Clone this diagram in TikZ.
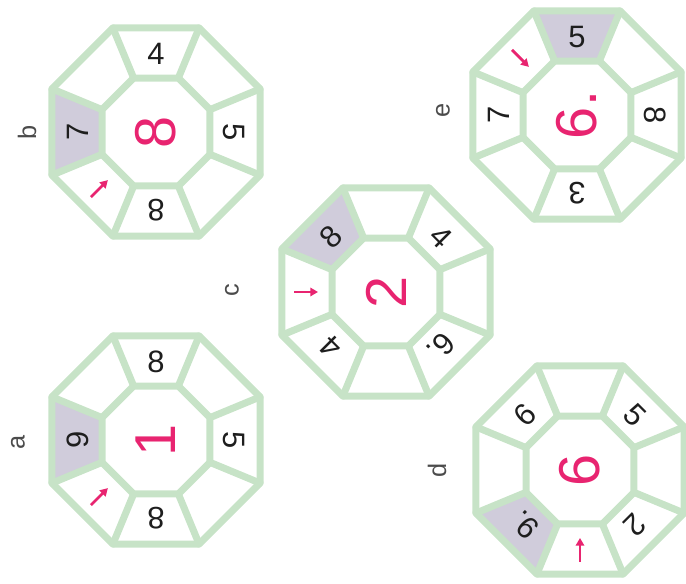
\documentclass[tikz,border=0pt]{standalone}
\usepackage{fontspec}
\setmainfont{Liberation Sans}
\usetikzlibrary{arrows.meta,calc}
\definecolor{framegreen}{RGB}{199,227,199}
\definecolor{cellgrey}{RGB}{208,204,219}
\definecolor{rose}{RGB}{232,36,112}
\definecolor{ink}{RGB}{30,30,30}

\begin{document}
\begin{tikzpicture}[
x=0.025cm, y=0.025cm,
ring/.style={
draw=framegreen,
line width=5pt,
line join=round,
line cap=round
},
cellnum/.style={
text=ink,
font=\fontsize{22}{22}\selectfont,
inner sep=0pt
},
bignum/.style={
text=rose,
font=\fontsize{41}{41}\selectfont,
inner sep=0pt,
rotate=90
},
tag/.style={
text=ink!80,
font=\fontsize{18}{18}\selectfont,
inner sep=0pt,
rotate=90
},
pointer/.style={
-{Triangle[length=5.5pt,width=6pt]},
draw=rose,
line width=2pt
}
]

\clip (0,0) rectangle (686,584);

% centres of the five octagons
\coordinate (a) at (156,144);
\coordinate (b) at (156,452);
\coordinate (c) at (386,292);
\coordinate (d) at (580,114);
\coordinate (e) at (577,469);

% grey cells
\foreach \o/\p in {a/180, b/180, c/135, d/225, e/90}
\fill[cellgrey] ($(\o)+(\p-22.5:112.6)$) -- ($(\o)+(\p+22.5:112.6)$)
  -- ($(\o)+(\p+22.5:58.4)$) -- ($(\o)+(\p-22.5:58.4)$) -- cycle;

% frames
\foreach \o in {a,b,c,d,e} {
\draw[ring] ($(\o)+(22.5:112.6)$) \foreach \k in {1,...,7} {-- ($(\o)+(22.5+45*\k:112.6)$)} -- cycle;
\draw[ring] ($(\o)+(22.5:58.4)$) \foreach \k in {1,...,7} {-- ($(\o)+(22.5+45*\k:58.4)$)} -- cycle;
\foreach \k in {0,...,7}
  \draw[ring] ($(\o)+(22.5+45*\k:112.6)$) -- ($(\o)+(22.5+45*\k:58.4)$);
}

% cell numbers
\foreach \p/\t in {90/8, 0/5, 270/8, 180/9}
\node[cellnum, rotate=\p-90] (a-\p) at ($(a)+(\p:78)$) {\t};
\foreach \p/\t in {90/4, 0/5, 270/8, 180/7}
\node[cellnum, rotate=\p-90] (b-\p) at ($(b)+(\p:78)$) {\t};
\foreach \p/\t in {135/8, 45/4, 315/6., 225/4}
\node[cellnum, rotate=\p-90] (c-\p) at ($(c)+(\p:78)$) {\t};
\foreach \p/\t in {135/6, 45/5, 315/2, 225/9.}
\node[cellnum, rotate=\p-90] (d-\p) at ($(d)+(\p:78)$) {\t};
\foreach \p/\t in {90/5, 0/8, 270/3, 180/7}
\node[cellnum, rotate=\p-90] (e-\p) at ($(e)+(\p:78)$) {\t};

% centre numbers
\node[bignum] (a-mid) at (a) {1};
\node[bignum] (b-mid) at (b) {8};
\node[bignum] (c-mid) at (c) {2};
\node[bignum] (d-mid) at (d) {6};
\node[bignum] (e-mid) at (e) {6.};

% arrows
\foreach \o/\p in {a/225, b/225, c/180, d/270, e/135} {
\coordinate (\o-tail) at ($(\o)+(\p:92)$);
\coordinate (\o-tip) at ($(\o)+(\p:68)$);
\draw[pointer] (\o-tail) -- (\o-tip);
}

% letters
\node[tag] (tag-a) at (18,142) {a};
\node[tag] (tag-b) at (27,452) {b};
\node[tag] (tag-c) at (232,294) {c};
\node[tag] (tag-d) at (437,114) {d};
\node[tag] (tag-e) at (443,474) {e};

\end{tikzpicture}
\end{document}
